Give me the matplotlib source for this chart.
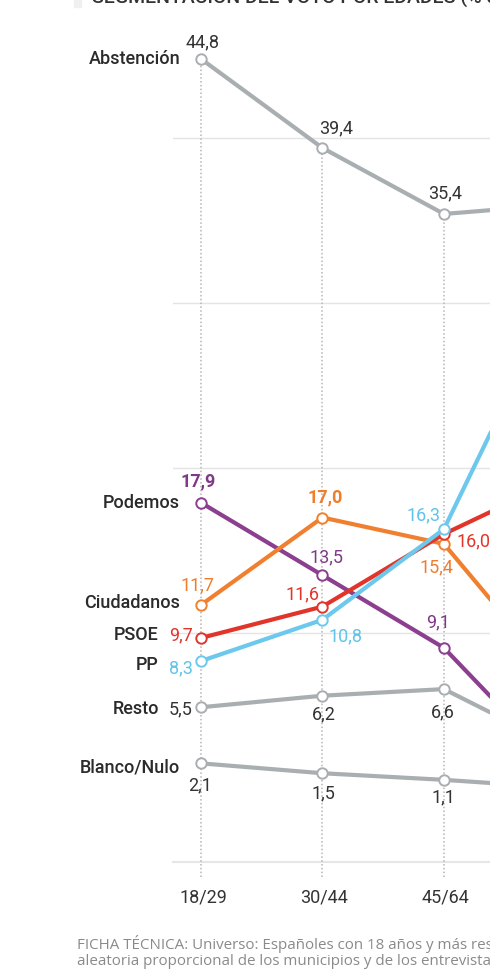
import matplotlib
matplotlib.use("Agg")
import matplotlib.pyplot as plt

# ---------------- data ----------------
categories = ["18/29", "30/44", "45/64", "65 y más"]
series_names = ["Blanco/Nulo", "Resto", "Abstención", "Podemos", "Ciudadanos", "PSOE", "PP"]
abstencion = [44.8, 39.4, 35.4, 36.0]
podemos = [17.9, 13.5, 9.1, 1.4]
ciudadanos = [11.7, 17.0, 15.4, 6.6]
psoe = [9.7, 11.6, 16.0, 19.5]
pp = [8.3, 10.8, 16.3, 31.5]
resto = [5.5, 6.2, 6.6, 2.9]
blanco = [2.1, 1.5, 1.1, 0.6]
value_labels = {
    "Abstención": ["44,8", "39,4", "35,4"],
    "Podemos": ["17,9", "13,5", "9,1"],
    "Ciudadanos": ["11,7", "17,0", "15,4"],
    "PSOE": ["9,7", "11,6", "16,0"],
    "PP": ["8,3", "10,8", "16,3"],
    "Resto": ["5,5", "6,2", "6,6"],
    "Blanco/Nulo": ["2,1", "1,5", "1,1"],
}
values = {
    "Abstención": abstencion, "Podemos": podemos, "Ciudadanos": ciudadanos,
    "PSOE": psoe, "PP": pp, "Resto": resto, "Blanco/Nulo": blanco,
}
gridlines = [10, 20, 30, 40]
title = "SEGMENTACIÓN DEL VOTO POR EDADES (% de voto)"
footer1 = "FICHA TÉCNICA: Universo: Españoles con 18 años y más residentes en"
footer2 = "aleatoria proporcional de los municipios y de los entrevistados"

# ---------------- style ----------------
GRAY = "#a9aeb1"
colors = {
    "Abstención": GRAY, "Resto": GRAY, "Blanco/Nulo": GRAY,
    "Podemos": "#8b3f8e", "Ciudadanos": "#f0802f", "PSOE": "#e1352b", "PP": "#6cc8ec",
}
text_colors = {
    "Abstención": "#333333", "Resto": "#333333", "Blanco/Nulo": "#333333",
    "Podemos": "#7e3a86", "Ciudadanos": "#ef7d2e", "PSOE": "#e1352b", "PP": "#5fc3ea",
}
bold_values = {("Podemos", 0), ("Ciudadanos", 1)}
# value label offsets in pixels (dx, dy, ha)
val_off = {
    "Abstención": [(2, 17, "center"), (14, 20, "center"), (1, 21, "center")],
    "Podemos": [(-3, 21, "center"), (4, 18, "center"), (-6, 25, "center")],
    "Ciudadanos": [(-4, 20, "center"), (3, 20, "center"), (-7, -23, "center")],
    "PSOE": [(-8, 3, "right"), (-20, 12, "center"), (13, -7, "left")],
    "PP": [(-8, -7, "right"), (23, -17, "center"), (-20, 14, "center")],
    "Resto": [(-8, -2, "right"), (1, -19, "center"), (-1, -23, "center")],
    "Blanco/Nulo": [(-1, -22, "center"), (1, -20, "center"), (-1, -18, "center")],
}
name_off = {
    "Abstención": (-20, 0), "Podemos": (-21, 0), "Ciudadanos": (-21, 2),
    "PSOE": (-42, 3), "PP": (-42, -4), "Resto": (-42, -2), "Blanco/Nulo": (-21, -4),
}

FONT = ["Roboto", "DejaVu Sans"]
plt.rcParams["font.family"] = FONT

W, H = 490, 969
fig = plt.figure(figsize=(W / 100, H / 100), dpi=100)
fig.patch.set_facecolor("white")

ax_left, ax_right, ax_top, ax_bot = 173, 490, 30, 862
ax = fig.add_axes([ax_left / W, 1 - ax_bot / H, (ax_right - ax_left) / W, (ax_bot - ax_top) / H])
xmin, xmax = -0.23, 2.379
ax.set_xlim(xmin, xmax)
ax.set_ylim(-3.88, 46.55)
ax.axis("off")

x = list(range(len(categories)))

# gridlines
for g in gridlines:
    ax.axhline(g, color="#e4e4e4", lw=1.0, zorder=0)
ax.axhline(-3.88, color="#e6e6e6", lw=1.5, zorder=0, clip_on=False)

# vertical dotted lines
for i in x[:3]:
    ax.plot([i, i], [-4.8, abstencion[i]], color="#b5b5b5", lw=1.1,
            linestyle=(0, (1, 1.5)), zorder=1, clip_on=False)

order = ["Blanco/Nulo", "Resto", "Abstención", "Podemos", "Ciudadanos", "PSOE", "PP"]
for z, name in enumerate(order):
    ax.plot(x, values[name], color=colors[name], lw=3.0, zorder=3 + z,
            solid_capstyle="round")
    ax.plot(x, values[name], linestyle="none", marker="o", ms=7.5,
            mfc="white", mec=colors[name], mew=1.4, zorder=3 + z + 0.5, clip_on=False)

    # value labels
    for i, lab in enumerate(value_labels[name]):
        dx, dy, ha = val_off[name][i]
        bold = (name, i) in bold_values
        ax.annotate(lab, (x[i], values[name][i]), xytext=(dx, dy),
                    textcoords="offset pixels", ha=ha, va="center",
                    fontsize=13, color=text_colors[name],
                    fontweight="bold" if bold else "normal", zorder=20,
                    annotation_clip=False)
    # series name
    dx, dy = name_off[name]
    ax.annotate(name, (x[0], values[name][0]), xytext=(dx, dy),
                textcoords="offset pixels", ha="right", va="center",
                fontsize=13, color="#2b2b2b", fontweight="medium", zorder=20,
                annotation_clip=False)

# category labels (only those inside the visible range)
for i, c in enumerate(categories):
    if xmin <= x[i] <= xmax:
        ax.annotate(c, (x[i], -3.88), xytext=(2, -35), textcoords="offset pixels",
                    ha="center", va="center", fontsize=13, color="#333333",
                    annotation_clip=False)

# title (cut at top)
fig.patches.append(plt.Rectangle((74 / W, 1 - 7 / H), 7 / W, 10 / H,
                                 transform=fig.transFigure, color="#f0f0f0"))
fig.text(92 / W, 1 - 3 / H, title, ha="left", va="baseline", fontsize=14,
         color="#333333", fontweight="medium")

# footer
fig.text(77 / W, 1 - 949 / H, footer1, ha="left", va="baseline", fontsize=10.9,
         color="#8a8a8a", family=["Open Sans", "DejaVu Sans"])
fig.text(77 / W, 1 - 965 / H, footer2, ha="left", va="baseline", fontsize=10.9,
         color="#8a8a8a", family=["Open Sans", "DejaVu Sans"])

fig.savefig("out.png", dpi=100, facecolor="white")
